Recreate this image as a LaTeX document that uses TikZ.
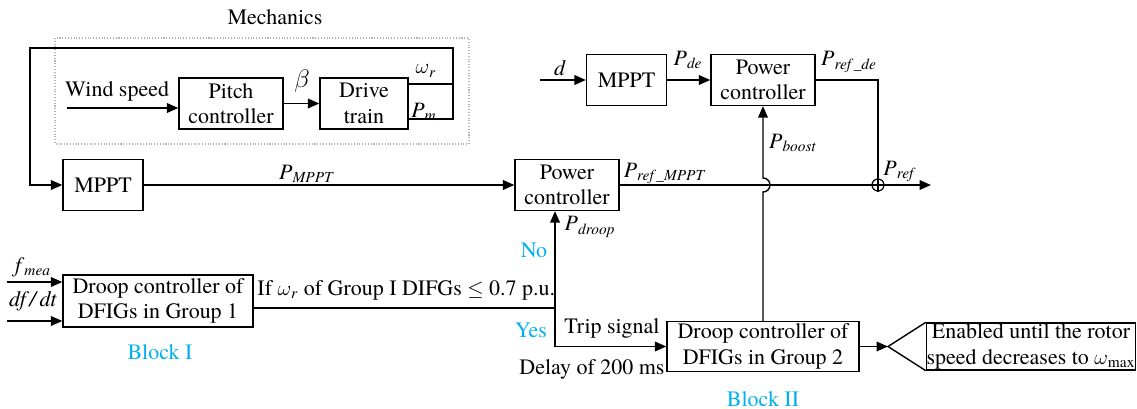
\documentclass[tikz,border=0pt]{standalone}
\usepackage{fontspec}
\setmainfont{texgyretermes}[Extension=.otf, UprightFont=*-regular, ItalicFont=*-italic, BoldFont=*-bold, BoldItalicFont=*-bolditalic]
\usetikzlibrary{arrows.meta}

\definecolor{blockblue}{RGB}{0,176,240}
\newcommand{\sig}[2]{\textit{#1}\textsubscript{\textit{#2}}}

\begin{document}
\begin{tikzpicture}[
    x=0.02cm, y=-0.02cm,
    every node/.style={font=\fontsize{12.5}{14.5}\selectfont, inner sep=1pt},
    >={Triangle[length=6.5pt,width=5.5pt]},
    line width=0.8pt,
    blk/.style={draw, line width=0.8pt, align=center, inner sep=0pt},
]

\useasboundingbox (0,0) rectangle (1137,409);

% === sizes of the boxes ===
\def\boxH{1.02cm}
\def\ctrlW{2.08cm}
\def\mpptW{1.6cm}
\def\droopW{3.84cm}

% === Mechanics ===
\draw[gray!60, densely dotted, line width=0.6pt] (55,38) rectangle (469,144);
\node (lbmech) at (275,17) {Mechanics};

\node[blk, minimum width=\ctrlW, minimum height=\boxH] (pitch) at (231,103.5) {Pitch\\controller};
\node[blk, minimum width=1.76cm, minimum height=\boxH] (drive) at (364,103.5) {Drive\\train};

\coordinate (windin) at (67,108);
\draw[->] (windin) -- (windin -| pitch.west);
\node (lbwind) at (117,91) {Wind speed};

\draw[->] (pitch) -- (drive);
\node[font=\fontsize{15}{16}\selectfont] (lbbeta) at (302,81) {$\beta$};

% outputs of the drive train, fed back to MPPT
\coordinate (omgR) at (453,84);
\coordinate (pmR) at (453,119);
\coordinate (fbR) at (453,48);
\coordinate (fbL) at (30,48);
\draw (drive.east |- omgR) -- (omgR);
\node (lbomega) at (426,71) {$\omega$\textsubscript{\textit{r}}};
\node (lbpm) at (424,112) {\sig{P}{m}};

% === Main power path ===
\node[blk, minimum width=\mpptW, minimum height=\boxH] (mppt1) at (103,185) {MPPT};
\node[blk, minimum width=\ctrlW, minimum height=\boxH] (pc1) at (567,185) {Power\\controller};
\draw[->] (drive.east |- pmR) -- (pmR) -- (fbR) -- (fbL) |- (mppt1.west);

\draw[->] (mppt1) -- (pc1);
\node (lbpmppt) at (307,174) {\sig{P}{MPPT}};

\node[draw, circle, minimum size=0.24cm, inner sep=0pt, line width=0.7pt] (sum) at (878,185) {};
\draw[line width=0.7pt] (sum.north) -- (sum.south) (sum.west) -- (sum.east);
\draw (pc1.east) -- (sum.west);
\node (lbrefmppt) at (665,173) {\sig{P}{ref\,\_MPPT}};

\coordinate (prefout) at (931,185);
\draw[->] (sum.east) -- (prefout);
\node (lbpref) at (900,171) {\sig{P}{ref}};

% === De-loading path ===
\node[blk, minimum width=\mpptW, minimum height=\boxH] (mppt2) at (626.5,80) {MPPT};
\node[blk, minimum width=\ctrlW, minimum height=\boxH] (pc2) at (763,80) {Power\\controller};

\coordinate (din) at (540,80);
\draw[->] (din) -- (mppt2.west);
\node (lbd) at (560,68) {\textit{d}};
\draw[->] (mppt2) -- (pc2);
\node (lbpde) at (688,60) {\sig{P}{de}};
\draw (pc2.east) -| (sum.north);
\node (lbrefde) at (849,62) {\sig{P}{ref\,\_de}};

% === Droop controllers ===
\node[blk, minimum width=3.8cm, minimum height=1.04cm] (droop1) at (158,301) {Droop controller of\\DFIGs in Group 1};
\node[blk, minimum width=\droopW, minimum height=1.0cm] (droop2) at (763,346.5) {Droop controller of\\DFIGs in Group 2};
\node[text=blockblue] (lbblk1) at (160,352) {Block I};
\node[text=blockblue] (lbblk2) at (763,399) {Block II};

\coordinate (fin) at (7,282);
\coordinate (dfin) at (7,321);
\draw[->] (fin) -- (fin -| droop1.west);
\draw[->] (dfin) -- (dfin -| droop1.west);
\node (lbfmea) at (33,267) {\sig{f}{mea}};
\node (lbdfdt) at (33,301) {\textit{df\,/\,dt}};

% condition and switch
\coordinate (ifj) at (555,308);
\draw (droop1.east |- ifj) -- (ifj);
\node[anchor=west] (lbif) at (255,290) {If $\omega$\textsubscript{\textit{r}} of Group I DIFGs $\leq$ 0.7 p.u.};
\draw[->] (ifj) -- (ifj |- pc1.south);
\draw[->] (ifj) |- (droop2.west);
\node (lbpdroop) at (590,227) {\sig{P}{droop}};
\node[text=blockblue] (lbno) at (534,250) {No};
\node[text=blockblue] (lbyes) at (531,330) {Yes};
\node (lbtrip) at (612,328) {Trip signal};
\node[anchor=east] (lbdelay) at (667,369) {Delay of 200 ms};

% P_boost, hopping over the main path
\coordinate (jmpB) at (763,192);
\draw[->] (droop2.north) -- (jmpB) arc[start angle=90, end angle=-90, radius=7] -- (pc2.south);
\node (lbboost) at (793,143) {\sig{P}{boost}};

% === Limiter and note ===
\node[blk, minimum width=4.18cm, minimum height=0.94cm] (enabled) at (1031,346.5) {Enabled until the rotor\\speed decreases to $\omega$\textsubscript{max}};
\coordinate (lim) at (888,346.5);
\draw[->] (droop2.east) -- (lim);
\draw (enabled.north west) -- (lim) -- (enabled.south west);

\end{tikzpicture}
\end{document}
